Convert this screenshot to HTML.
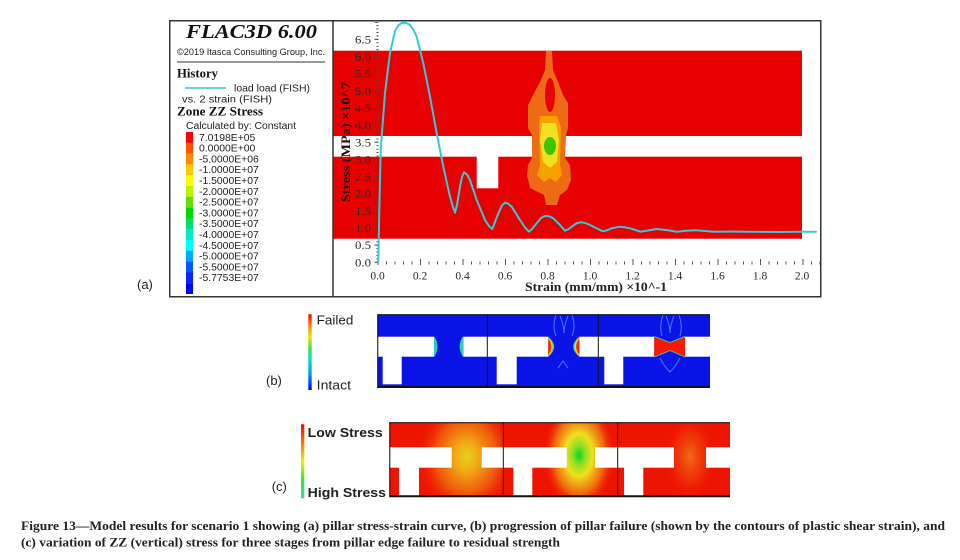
<!DOCTYPE html>
<html><head><meta charset="utf-8"><style>
html,body{margin:0;padding:0;background:#fff;}
svg{display:block;}
</style></head><body>
<svg width="960" height="560" viewBox="0 0 960 560" xmlns="http://www.w3.org/2000/svg">
<defs>
<linearGradient id="gb" x1="0" y1="0" x2="0" y2="1">
<stop offset="0" stop-color="#ff0000"/><stop offset="0.15" stop-color="#ff8000"/><stop offset="0.3" stop-color="#e8e800"/><stop offset="0.45" stop-color="#40e040"/><stop offset="0.6" stop-color="#00e0c0"/><stop offset="0.78" stop-color="#00a0ff"/><stop offset="1" stop-color="#0000ff"/>
</linearGradient>
<linearGradient id="gc" x1="0" y1="0" x2="0" y2="1">
<stop offset="0" stop-color="#ff0000"/><stop offset="0.3" stop-color="#ff8c00"/><stop offset="0.5" stop-color="#f0f000"/><stop offset="0.75" stop-color="#40e040"/><stop offset="1" stop-color="#30e0a0"/>
</linearGradient>
<radialGradient id="r1" cx="0.5" cy="0.5" r="0.5">
<stop offset="0" stop-color="#ead020"/><stop offset="0.25" stop-color="#f0a814"/><stop offset="0.6" stop-color="#f07010" stop-opacity="0.75"/><stop offset="1" stop-color="#ee1500" stop-opacity="0"/>
</radialGradient>
<radialGradient id="r2" cx="0.5" cy="0.5" r="0.5">
<stop offset="0" stop-color="#10d030"/><stop offset="0.18" stop-color="#90e020"/><stop offset="0.38" stop-color="#f0e020"/><stop offset="0.7" stop-color="#f08010" stop-opacity="0.8"/><stop offset="1" stop-color="#ee1500" stop-opacity="0"/>
</radialGradient>
<radialGradient id="r3" cx="0.5" cy="0.5" r="0.5">
<stop offset="0" stop-color="#f08020" stop-opacity="0.8"/><stop offset="0.6" stop-color="#f05010" stop-opacity="0.4"/><stop offset="1" stop-color="#ee1500" stop-opacity="0"/>
</radialGradient>
<clipPath id="c1"><rect x="389.3" y="422.3" width="114" height="74.4"/></clipPath>
<clipPath id="c2"><rect x="503.3" y="422.3" width="114.4" height="74.4"/></clipPath>
<clipPath id="c3"><rect x="617.7" y="422.3" width="112.3" height="74.4"/></clipPath>
</defs>
<rect width="960" height="560" fill="#fff"/>

<!-- ===== Panel (a) ===== -->
<rect x="333.5" y="50.7" width="468.5" height="85.3" fill="#e60000"/>
<rect x="333.5" y="156.7" width="468.5" height="82" fill="#e60000"/>
<rect x="476.7" y="156.2" width="21.6" height="32.1" fill="#fff"/>
<!-- pillar contour -->
<polygon fill="#ef6a14" points="546,51 552,51 553,70 558,82 563,95 568,103 568,128 566,135 565,158 570,165 571,180 567,190 560,195 557,205 546,205 544,195 530,188 527,175 528,165 532,158 532,135 528,128 528,105 534,93 540,82 545,70"/>
<ellipse cx="550" cy="95" rx="5" ry="17" fill="#e60000"/>
<polygon fill="#f7a000" points="540,116 557,116 561,128 560,165 562,175 556,182 550,178 544,182 537,175 540,165 539,128"/>
<polygon fill="#f0e020" points="542,123 556,123 559,140 557,162 550,168 543,162 540,140"/>
<ellipse cx="550" cy="146" rx="6" ry="9" fill="#40c400"/>
<!-- frame -->
<rect x="169.75" y="20.75" width="651" height="276" fill="none" stroke="#333" stroke-width="1.5"/>
<line x1="333" y1="20" x2="333" y2="297" stroke="#333" stroke-width="1.5"/>

<!-- legend -->
<text x="186" y="38" font-family="Liberation Serif, serif" font-weight="bold" font-style="italic" font-size="20" textLength="131" lengthAdjust="spacingAndGlyphs" fill="#111">FLAC3D 6.00</text>
<text x="177" y="55" font-family="Liberation Sans, sans-serif" font-size="9.5" textLength="148" lengthAdjust="spacingAndGlyphs" fill="#222">©2019 Itasca Consulting Group, Inc.</text>
<line x1="177" y1="62" x2="325" y2="62" stroke="#333" stroke-width="1"/>
<text x="177" y="77.5" font-family="Liberation Serif, serif" font-weight="bold" font-size="12.5" textLength="41" lengthAdjust="spacingAndGlyphs" fill="#111">History</text>
<line x1="185" y1="88" x2="226" y2="88" stroke="#35c9d6" stroke-width="1.5"/>
<text x="234" y="91.5" font-family="Liberation Sans, sans-serif" font-size="10" textLength="76" lengthAdjust="spacingAndGlyphs" fill="#222">load load (FISH)</text>
<text x="182" y="102.5" font-family="Liberation Sans, sans-serif" font-size="10" textLength="90" lengthAdjust="spacingAndGlyphs" fill="#222">vs. 2 strain (FISH)</text>
<text x="177" y="115.5" font-family="Liberation Serif, serif" font-weight="bold" font-size="12.5" textLength="86" lengthAdjust="spacingAndGlyphs" fill="#111">Zone ZZ Stress</text>
<text x="186" y="129" font-family="Liberation Sans, sans-serif" font-size="10" textLength="110" lengthAdjust="spacingAndGlyphs" fill="#222">Calculated by: Constant</text>
<g>
<rect x="186" y="132" width="7" height="10.9" fill="#ff0000"/>
<rect x="186" y="142.8" width="7" height="10.9" fill="#ff5500"/>
<rect x="186" y="153.6" width="7" height="10.9" fill="#ff8a00"/>
<rect x="186" y="164.4" width="7" height="10.9" fill="#ffc800"/>
<rect x="186" y="175.2" width="7" height="10.9" fill="#ffff00"/>
<rect x="186" y="186" width="7" height="10.9" fill="#c0f000"/>
<rect x="186" y="196.8" width="7" height="10.9" fill="#60e000"/>
<rect x="186" y="207.6" width="7" height="10.9" fill="#00d800"/>
<rect x="186" y="218.4" width="7" height="10.9" fill="#00dc70"/>
<rect x="186" y="229.2" width="7" height="10.9" fill="#00ecc8"/>
<rect x="186" y="240" width="7" height="10.9" fill="#00ffff"/>
<rect x="186" y="250.8" width="7" height="10.9" fill="#00a8ff"/>
<rect x="186" y="261.6" width="7" height="10.9" fill="#0058ff"/>
<rect x="186" y="272.4" width="7" height="10.9" fill="#0028ff"/>
<rect x="186" y="283.2" width="7" height="10.8" fill="#0000ff"/>
</g>
<g font-family="Liberation Sans, sans-serif" font-size="10.4" fill="#222">
<text x="199" y="140.8">7.0198E+05</text>
<text x="199" y="151.6">0.0000E+00</text>
<text x="199" y="162.4">-5.0000E+06</text>
<text x="199" y="173.2">-1.0000E+07</text>
<text x="199" y="184">-1.5000E+07</text>
<text x="199" y="194.8">-2.0000E+07</text>
<text x="199" y="205.6">-2.5000E+07</text>
<text x="199" y="216.4">-3.0000E+07</text>
<text x="199" y="227.2">-3.5000E+07</text>
<text x="199" y="238">-4.0000E+07</text>
<text x="199" y="248.8">-4.5000E+07</text>
<text x="199" y="259.6">-5.0000E+07</text>
<text x="199" y="270.4">-5.5000E+07</text>
<text x="199" y="281.2">-5.7753E+07</text>
</g>

<!-- axes ticks -->
<line x1="377.5" y1="262.8" x2="377.5" y2="22" stroke="#444" stroke-width="2" stroke-dasharray="1 2.43"/>
<line x1="376" y1="262.8" x2="376" y2="22" stroke="#444" stroke-width="3" stroke-dasharray="1 16.15"/>
<line x1="377.5" y1="263" x2="820" y2="263" stroke="#555" stroke-width="3" stroke-dasharray="1 7.5"/>
<line x1="377.5" y1="262" x2="820" y2="262" stroke="#555" stroke-width="6" stroke-dasharray="1 41.5"/>

<!-- y tick labels -->
<g font-family="Liberation Serif, serif" font-size="11.5" fill="#2a2a2a" text-anchor="end">
<text x="371" y="43.4" textLength="16" lengthAdjust="spacingAndGlyphs">6.5</text>
<text x="371" y="60.5" textLength="16" lengthAdjust="spacingAndGlyphs">6.0</text>
<text x="371" y="77.7" textLength="16" lengthAdjust="spacingAndGlyphs">5.5</text>
<text x="371" y="94.8" textLength="16" lengthAdjust="spacingAndGlyphs">5.0</text>
<text x="371" y="112" textLength="16" lengthAdjust="spacingAndGlyphs">4.5</text>
<text x="371" y="129.1" textLength="16" lengthAdjust="spacingAndGlyphs">4.0</text>
<text x="371" y="146.3" textLength="16" lengthAdjust="spacingAndGlyphs">3.5</text>
<text x="371" y="163.4" textLength="16" lengthAdjust="spacingAndGlyphs">3.0</text>
<text x="371" y="180.6" textLength="16" lengthAdjust="spacingAndGlyphs">2.5</text>
<text x="371" y="197.7" textLength="16" lengthAdjust="spacingAndGlyphs">2.0</text>
<text x="371" y="214.9" textLength="16" lengthAdjust="spacingAndGlyphs">1.5</text>
<text x="371" y="232" textLength="16" lengthAdjust="spacingAndGlyphs">1.0</text>
<text x="371" y="249.2" textLength="16" lengthAdjust="spacingAndGlyphs">0.5</text>
<text x="371" y="266.3" textLength="16" lengthAdjust="spacingAndGlyphs">0.0</text>
</g>
<!-- x tick labels -->
<g font-family="Liberation Serif, serif" font-size="11.5" fill="#2a2a2a" text-anchor="middle">
<text x="377.5" y="279.7">0.0</text>
<text x="420" y="279.7">0.2</text>
<text x="462.5" y="279.7">0.4</text>
<text x="505" y="279.7">0.6</text>
<text x="547.5" y="279.7">0.8</text>
<text x="590" y="279.7">1.0</text>
<text x="632.5" y="279.7">1.2</text>
<text x="675" y="279.7">1.4</text>
<text x="717.5" y="279.7">1.6</text>
<text x="760" y="279.7">1.8</text>
<text x="802" y="279.7">2.0</text>
</g>
<text x="525" y="291" font-family="Liberation Serif, serif" font-weight="bold" font-size="12.5" textLength="142" lengthAdjust="spacingAndGlyphs" fill="#222">Strain (mm/mm) ×10^-1</text>
<text transform="translate(350,142) rotate(-90)" text-anchor="middle" font-family="Liberation Serif, serif" font-weight="bold" font-size="12.5" textLength="120" lengthAdjust="spacingAndGlyphs" fill="#2a0a0a">Stress (MPa) ×10^7</text>

<!-- curve -->
<polyline fill="none" stroke="#35c9d6" stroke-width="2" stroke-linejoin="round" stroke-linecap="round" points="378.3,261.7 379.3,210 380.7,150 385,93 390,53 395,31 398,26 401,23.3 403.3,22.7 406,23 410,25 413,29 416.7,36.7 423.3,63.3 430,96.7 436.7,133.3 443.3,166.7 450,196.7 453,207 455,212.7 457,205 460,186.7 462,177 464,172.3 467,174.5 470,180 476.7,200 485,220 489,226 492.3,229 495,222 498.3,213.3 502,205.5 505,202.7 508,203.5 511.7,206.7 520,220 525,227.5 529,231.7 532,229 536.7,223.3 541,218 545,216 549,216.3 553.3,218.3 560,225 565,230.7 568,229.5 571.7,226.7 577,223 581.7,222.3 586,223.3 590,225 596,228 602.7,231.3 607,230.3 611.7,228.3 619.3,226.7 625,227.3 630,228.3 640.7,231.7 648,230.5 656.7,229 666,230 676.7,231.7 686,230.8 695,230.3 705,231 713.3,231.7 730,231.5 746.7,231.7 780,232 800,231.7 816,231.7"/>

<text x="137" y="289" font-family="Liberation Sans, sans-serif" font-size="13" fill="#222">(a)</text>

<!-- ===== Panel (b) ===== -->
<rect x="308.3" y="314.3" width="3.4" height="75.7" fill="url(#gb)"/>
<text x="316.7" y="324.5" font-family="Liberation Sans, sans-serif" font-size="13" textLength="36.7" lengthAdjust="spacingAndGlyphs" fill="#222">Failed</text>
<text x="316.7" y="389.5" font-family="Liberation Sans, sans-serif" font-size="13" textLength="34.3" lengthAdjust="spacingAndGlyphs" fill="#222">Intact</text>
<text x="266" y="385" font-family="Liberation Sans, sans-serif" font-size="13" fill="#222">(b)</text>

<rect x="377.3" y="314.3" width="332.7" height="73.4" fill="#0a14e6"/>
<g fill="none" stroke="#4f8cff" stroke-width="1" opacity="0.85">
<path d="M556,315 Q552,326 556,336"/><path d="M572,315 Q576,326 572,336"/>
<path d="M560,316 Q564,326 564,333 Q564,326 568,316"/>
<path d="M558,368 L563,361 L568,368"/>
<path d="M663,315 Q659,326 662,336"/><path d="M679,315 Q683,326 680,336"/>
<path d="M666,316 Q670,326 670,333 Q670,326 674,316"/>
<path d="M660,358 Q664,366 670,372 Q676,366 680,358"/>
</g>
<g fill="#fff">
<rect x="377.3" y="336.7" width="56.7" height="20"/>
<rect x="463.3" y="336.7" width="24" height="20"/>
<rect x="382.7" y="356" width="19" height="28.3"/>
<rect x="487.3" y="336.7" width="61" height="20"/>
<rect x="579.3" y="336.7" width="19" height="20"/>
<rect x="496.7" y="356" width="20" height="28.3"/>
<rect x="598.3" y="336.7" width="56" height="20"/>
<rect x="685" y="336.7" width="25" height="20"/>
<rect x="604.3" y="356" width="19" height="28.3"/>
</g>
<path d="M434,337 Q440,346 434,356.5" fill="#30c0e0" stroke="#40e060" stroke-width="1"/>
<path d="M463.3,337 Q457,346 463.3,356.5" fill="#30c0e0" stroke="#40e060" stroke-width="1"/>
<path d="M548.3,336.7 Q560,346.7 548.3,356.7 Z" fill="#40d0a0"/>
<path d="M548.3,337.5 Q557,346.7 548.3,356 Z" fill="#f0e020"/>
<path d="M548.3,338.5 Q554.5,346.7 548.3,355 Z" fill="#ff2000"/>
<path d="M579.3,336.7 Q567,346.7 579.3,356.7 Z" fill="#40d0a0"/>
<path d="M579.3,337.5 Q570,346.7 579.3,356 Z" fill="#f0e020"/>
<path d="M579.3,338.5 Q573,346.7 579.3,355 Z" fill="#ff2000"/>
<polygon points="654.3,336 670,342 685,336 685,357.5 670,351 654.3,357.5" fill="#30d090"/>
<polygon points="654.3,337 670,343 685,337 685,356.5 670,350 654.3,356.5" fill="#ff1500"/>
<g stroke="#111" fill="none">
<line x1="377.3" y1="314.8" x2="710" y2="314.8" stroke-width="1"/>
<line x1="377.3" y1="387" x2="710" y2="387" stroke-width="2"/>
<line x1="377.8" y1="314.3" x2="377.8" y2="388" stroke-width="1"/>
<line x1="487.3" y1="314.3" x2="487.3" y2="388" stroke-width="1"/>
<line x1="598.3" y1="314.3" x2="598.3" y2="388" stroke-width="1"/>
</g>

<!-- ===== Panel (c) ===== -->
<rect x="301" y="424.3" width="3.3" height="74" fill="url(#gc)"/>
<text x="307.7" y="437" font-family="Liberation Sans, sans-serif" font-weight="bold" font-size="12.5" textLength="75" lengthAdjust="spacingAndGlyphs" fill="#222">Low Stress</text>
<text x="307.7" y="497" font-family="Liberation Sans, sans-serif" font-weight="bold" font-size="12.5" textLength="78.3" lengthAdjust="spacingAndGlyphs" fill="#222">High Stress</text>
<text x="271.7" y="491" font-family="Liberation Sans, sans-serif" font-size="13" fill="#222">(c)</text>

<rect x="389.3" y="422.3" width="340.7" height="74.4" fill="#ee1500"/>
<g clip-path="url(#c1)"><ellipse cx="466.7" cy="457" rx="50" ry="62" fill="url(#r1)"/></g>
<g clip-path="url(#c2)"><ellipse cx="579" cy="455" rx="36" ry="56" fill="url(#r2)"/></g>
<g clip-path="url(#c3)"><ellipse cx="690" cy="457" rx="25" ry="42" fill="url(#r3)"/></g>
<g fill="#fff">
<rect x="389.3" y="447.3" width="62.4" height="20.4"/>
<rect x="481.7" y="447.3" width="21.6" height="20.4"/>
<rect x="399" y="467" width="20" height="29"/>
<rect x="503.3" y="447.3" width="63.4" height="20.4"/>
<rect x="595" y="447.3" width="22.7" height="20.4"/>
<rect x="513.3" y="467" width="19" height="29"/>
<rect x="617.7" y="447.3" width="56.3" height="20.4"/>
<rect x="706" y="447.3" width="24" height="20.4"/>
<rect x="624" y="467" width="19.3" height="29"/>
</g>
<g stroke="#111" fill="none">
<line x1="389.3" y1="422.8" x2="730" y2="422.8" stroke-width="1"/>
<line x1="389.3" y1="496.2" x2="730" y2="496.2" stroke-width="2"/>
<line x1="389.8" y1="422.3" x2="389.8" y2="497" stroke-width="1"/>
<line x1="503.3" y1="422.3" x2="503.3" y2="497" stroke-width="1"/>
<line x1="617.7" y1="422.3" x2="617.7" y2="497" stroke-width="1"/>
</g>

<!-- caption -->
<text x="21" y="530" font-family="Liberation Serif, serif" font-weight="bold" font-size="12.5" textLength="924" lengthAdjust="spacingAndGlyphs" fill="#222">Figure 13—Model results for scenario 1 showing (a) pillar stress-strain curve, (b) progression of pillar failure (shown by the contours of plastic shear strain), and</text>
<text x="21" y="546.5" font-family="Liberation Serif, serif" font-weight="bold" font-size="12.5" textLength="539" lengthAdjust="spacingAndGlyphs" fill="#222">(c) variation of ZZ (vertical) stress for three stages from pillar edge failure to residual strength</text>
</svg>
</body></html>
